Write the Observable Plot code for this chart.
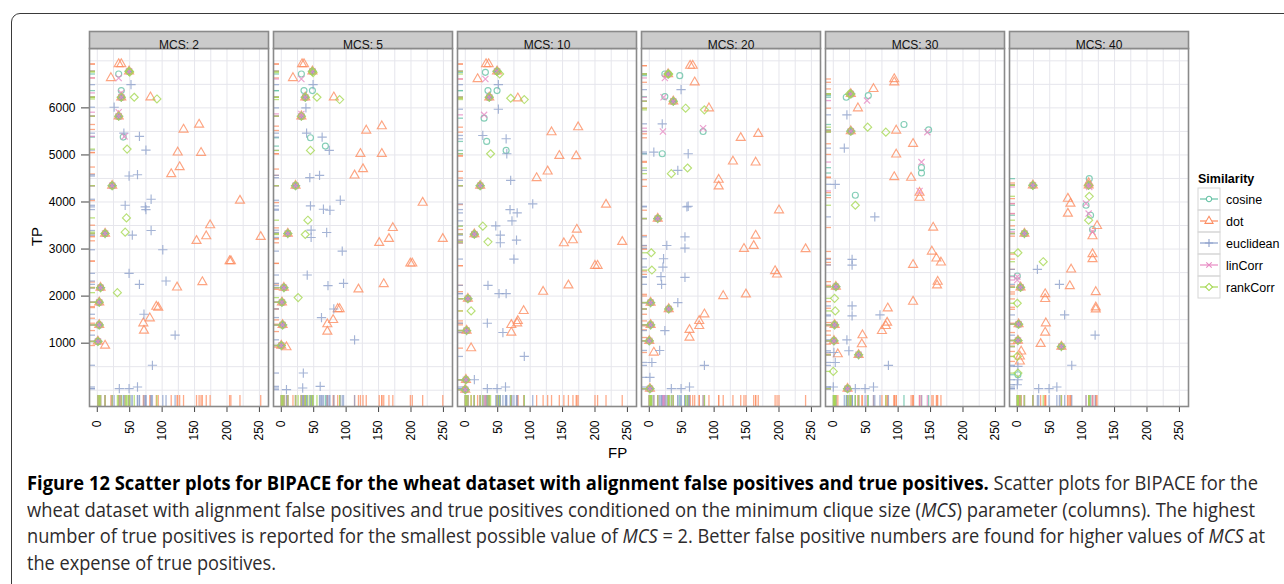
<!DOCTYPE html>
<html><head><meta charset="utf-8">
<script src="https://cdn.jsdelivr.net/npm/d3@7"></script>
<script src="https://cdn.jsdelivr.net/npm/@observablehq/plot@0.6"></script>
<style>
html,body{margin:0;padding:0;background:#fff;width:1284px;height:584px;overflow:hidden;position:relative;font-family:"Liberation Sans",Arial,sans-serif;}
#box{position:absolute;left:11px;top:13px;width:1320px;height:620px;border:1.3px solid #3a3a3a;border-radius:9px;box-sizing:border-box;}
#chart{position:absolute;left:0;top:0;}
#chart svg text{font-size:12px !important;font-family:"Liberation Sans",Arial,sans-serif !important;}
.cap{position:absolute;left:27px;white-space:nowrap;font-family:"Open Sans","Noto Sans",sans-serif;font-size:20px;line-height:26.5px;color:#2e2b2c;transform-origin:0 50%;}
.cap b{color:#000;font-weight:700;}
.axlab{position:absolute;font-family:"Liberation Sans",Arial,sans-serif;font-size:15px;line-height:15px;color:#000;}
svg [aria-label$="tick"] path, svg g[aria-label$="axis"] line{stroke:#444;}
</style></head>
<body>
<div id="box"></div>
<div id="chart"></div>
<div class="axlab" id="fp" style="left:608px;top:445px;">FP</div>
<div class="axlab" id="tp" style="left:27px;top:229px;transform:rotate(-90deg);transform-origin:50% 50%;">TP</div>
<svg id="legend" width="94" height="140" style="position:absolute;left:1190px;top:162px;overflow:visible"></svg>
<div class="cap" data-w="1231" style="top:470px"><b>Figure 12 Scatter plots for BIPACE for the wheat dataset with alignment false positives and true positives.</b> Scatter plots for BIPACE for the</div>
<div class="cap" data-w="1228" style="top:496.5px">wheat dataset with alignment false positives and true positives conditioned on the minimum clique size (<i>MCS</i>) parameter (columns). The highest</div>
<div class="cap" data-w="1238" style="top:523px">number of true positives is reported for the smallest possible value of <i>MCS</i> = 2. Better false positive numbers are found for higher values of <i>MCS</i> at</div>
<div class="cap" data-w="249" style="top:549.5px">the expense of true positives.</div>
<script>
// ---------- data ----------
const MCS = [2, 5, 10, 20, 30, 40];
const similarities = ["cosine", "dot", "euclidean", "linCorr", "rankCorr"];
const xTicks = [0, 50, 100, 150, 200, 250];
const yTicks = [1000, 2000, 3000, 4000, 5000, 6000];
const xGrid = [0, 25, 50, 75, 100, 125, 150, 175, 200, 225, 250];
const yGrid = [0, 500, 1000, 1500, 2000, 2500, 3000, 3500, 4000, 4500, 5000, 5500, 6000, 6500, 7000];

// [MCS, FP, TP]
const cosinePts = [
  [2,33,6720],[2,37,6367],[2,40,5379],
  [5,31,6720],[5,35,6367],[5,48,6367],[5,45,5365],[5,68,5188],
  [10,31,6755],[10,35,6367],[10,49,6367],[10,33,5287],[10,63,5096],[10,29,5781],
  [20,47,6685],[20,24,6240],[20,83,5499],[20,20,5025],[20,24,6720],
  [30,20,6226],[30,147,5534],[30,136,4729],[30,136,4616],[30,109,5647],[30,54,6261],[30,34,4143],
  [40,111,4496],[40,106,3931],[40,113,3719],[40,116,3415],[40,0,2427],[40,1,329]
];
const dotPts = [
  [2,33,6932],[2,37,6932],[2,21,6636],[2,82,6226],[2,133,5541],[2,157,5647],[2,124,5054],[2,160,5047],[2,127,4743],[2,114,4595],[2,220,4030],[2,174,3507],[2,153,3175],[2,168,3274],[2,252,3260],[2,204,2744],[2,206,2744],[2,123,2186],[2,162,2300],[2,91,1777],[2,94,1756],[2,81,1530],[2,71,1424],[2,72,1268],[2,12,950],
  [5,32,6932],[5,35,6932],[5,18,6636],[5,81,6226],[5,131,5520],[5,155,5612],[5,122,5025],[5,155,5025],[5,126,4700],[5,113,4566],[5,218,3987],[5,172,3450],[5,151,3133],[5,166,3218],[5,249,3218],[5,199,2695],[5,202,2695],[5,119,2144],[5,158,2257],[5,87,1727],[5,90,1727],[5,80,1494],[5,71,1403],[5,71,1247],[5,8,915],
  [10,32,6932],[10,36,6932],[10,19,6614],[10,81,6205],[10,133,5484],[10,174,5590],[10,145,4983],[10,171,4976],[10,127,4651],[10,110,4510],[10,217,3945],[10,172,3415],[10,152,3126],[10,166,3189],[10,242,3154],[10,200,2646],[10,204,2646],[10,120,2095],[10,159,2229],[10,90,1685],[10,81,1473],[10,80,1424],[10,71,1389],[10,71,1226],[10,9,894],
  [20,63,6897],[20,67,6897],[20,70,6544],[20,92,5993],[20,141,5364],[20,168,5449],[20,129,4863],[20,164,4842],[20,107,4474],[20,107,4333],[20,200,3825],[20,164,3288],[20,161,3069],[20,146,3006],[20,241,2999],[20,194,2533],[20,197,2462],[20,114,2003],[20,149,2038],[20,85,1614],[20,77,1473],[20,77,1367],[20,62,1283],[20,62,1120],[20,7,802],
  [30,94,6614],[30,94,6544],[30,62,6403],[30,38,5993],[30,97,5520],[30,123,5237],[30,97,5011],[30,94,4531],[30,120,4517],[30,133,4093],[30,133,4199],[30,154,3458],[30,152,2949],[30,159,2801],[30,166,2716],[30,123,2666],[30,161,2307],[30,160,2229],[30,123,1883],[30,84,1742],[30,83,1438],[30,81,1367],[30,75,1261],[30,45,1170],[30,44,979],[30,7,767],
  [40,78,4072],[40,82,3966],[40,78,3754],[40,123,3493],[40,116,3274],[40,116,2893],[40,116,2787],[40,83,2568],[40,81,2215],[40,121,2088],[40,43,2045],[40,43,1940],[40,121,1763],[40,121,1720],[40,44,1424],[40,43,1226],[40,36,986],[40,6,824],[40,4,718],[40,4,612],[40,110,4404]
];
const euclideanPts = [
  [2,52,6494],[2,26,6014],[2,41,5463],[2,65,5393],[2,75,5103],[2,49,4552],[2,62,4580],[2,83,4058],[2,43,3930],[2,74,3896],[2,75,3839],[2,54,3295],[2,83,3394],[2,101,2985],[2,49,2483],[2,65,2250],[2,106,2320],[2,72,1614],[2,120,1170],[2,85,530],[2,34,33],[2,49,33],[2,62,68],
  [5,49,6494],[5,38,6000],[5,39,5463],[5,63,5379],[5,74,5096],[5,44,4517],[5,59,4566],[5,91,4037],[5,45,3917],[5,65,3846],[5,75,3825],[5,46,3401],[5,46,3246],[5,70,3352],[5,94,2956],[5,40,2448],[5,72,2222],[5,96,2271],[5,62,1544],[5,81,1727],[5,113,1071],[5,34,365],[5,8,12],[5,33,47],[5,60,82],
  [10,51,6494],[10,51,5972],[10,27,5414],[10,63,5343],[10,64,5025],[10,70,4460],[10,104,3959],[10,69,3839],[10,80,3768],[10,72,3599],[10,47,3493],[10,54,3295],[10,54,3133],[10,79,3189],[10,75,2787],[10,35,2229],[10,52,2053],[10,63,2053],[10,34,1424],[10,58,1226],[10,91,718],[10,14,223],[10,34,33],[10,49,33],[10,62,68],
  [20,49,6388],[20,20,5661],[20,7,5061],[20,60,5025],[20,44,4672],[20,58,3896],[20,60,3910],[20,55,3260],[20,27,3076],[20,55,3020],[20,22,2794],[20,21,2617],[20,18,2413],[20,55,2398],[20,19,2250],[20,44,1862],[20,24,1268],[20,16,845],[20,4,590],[20,85,527],[20,1,273],[20,34,33],[20,49,33],[20,62,68],
  [30,21,5852],[30,17,5145],[30,3,4376],[30,64,3684],[30,29,2780],[30,29,2660],[30,29,1791],[30,29,1579],[30,72,1600],[30,21,1071],[30,24,838],[30,1,802],[30,85,527],[30,3,590],[30,0,68],[30,34,33],[30,49,33],[30,62,68],
  [40,31,2568],[40,65,2250],[40,73,1600],[40,120,1170],[40,84,530],[40,33,33],[40,49,33],[40,61,68],[40,1,506],[40,1,223],[40,0,117]
];
const linCorrPts = [
  [2,33,6636],[2,33,5908],[2,37,6318],[2,42,5393],
  [5,31,6614],[5,31,5873],
  [10,31,6614],[10,29,5852],
  [20,24,6636],[20,21,5499],[20,83,5569],[20,22,6226],
  [30,52,6155],[30,145,5484],[30,136,4849],[30,133,4234],
  [40,111,4319],[40,106,3966],[40,110,3754],[40,116,3366],[40,0,2413],[40,0,2342]
];
const rankCorrPts = [
  [2,57,6226],[2,92,6190],[2,46,5124],[2,45,3662],[2,43,3359],[2,31,2073],[2,50,6760],
  [5,55,6226],[5,90,6177],[5,45,5096],[5,41,3613],[5,37,3309],[5,26,1968],[5,49,6750],
  [10,70,6205],[10,91,6177],[10,39,5025],[10,27,3486],[10,35,3154],[10,9,1685],[10,53,6720],
  [20,56,5993],[20,85,5958],[20,34,4602],[20,59,4722],[20,3,2921],[20,4,2554],[20,30,6720],
  [30,25,6297],[30,53,5590],[30,81,5484],[30,34,3931],[30,2,1953],[30,3,1685],[30,0,400],
  [40,111,4121],[40,110,3613],[40,40,2731],[40,1,2921],[40,0,1848],[40,0,718],[40,1,364]
];
// results identical for all five similarity measures
const sharedPts = [
  [2,49,6777],[2,37,6226],[2,33,5823],[2,23,4347],[2,12,3330],[2,5,2179],[2,3,1869],[2,3,1388],[2,1,1037],
  [5,48,6777],[5,37,6226],[5,31,5823],[5,22,4347],[5,10,3330],[5,4,2179],[5,1,1869],[5,2,1388],[5,0,950],
  [10,49,6777],[10,37,6226],[10,23,4347],[10,14,3316],[10,4,1946],[10,2,1268],[10,1,223],[10,0,12],
  [20,29,6720],[20,37,6141],[20,13,3648],[20,2,1862],[20,30,1727],[20,2,1389],[20,0,1050],[20,1,33],
  [30,27,6297],[30,27,5506],[30,4,2200],[30,2,1389],[30,1,1050],[30,39,753],[30,22,33],
  [40,24,4354],[40,11,3330],[40,5,2186],[40,2,1403],[40,1,1057],[40,68,929],[40,110,4355]
];

// ---------- styles ----------
const style = {
  cosine:    {color: "#66C2A5", symbol: "circle",    d3sym: d3.symbolCircle,    r: 3.0},
  dot:       {color: "#FC8D62", symbol: "triangle2", d3sym: d3.symbolTriangle2, r: 4.3},
  euclidean: {color: "#8DA0CB", symbol: "plus",      d3sym: d3.symbolPlus,      r: 3.1},
  linCorr:   {color: "#E78AC3", symbol: "times",     d3sym: d3.symbolTimes,     r: 2.9},
  rankCorr:  {color: "#A6D854", symbol: "diamond2",  d3sym: d3.symbolDiamond2,  r: 3.6}
};
const simPts = {cosine: cosinePts, dot: dotPts, euclidean: euclideanPts, linCorr: linCorrPts, rankCorr: rankCorrPts};
const rows = [];
for (const s of similarities) {
  for (const [mcs, fp, tp] of simPts[s].concat(sharedPts)) rows.push({sim: s, mcs, fp, tp});
}
const sharedRows = sharedPts.map(([mcs, fp, tp]) => ({mcs, fp, tp}));

// ---------- layout ----------
const W = 1284, H = 466, mT = 48, mB = 60, mL = 89, mR = 96;
const innerH = H - mT - mB;
const pad = 0.0272;
const step = (W - mL - mR) / (MCS.length - pad);
const bw = step * (1 - pad);

const marks = [
  Plot.ruleX(xGrid, {stroke: "#e6e6ec", strokeWidth: 1}),
  Plot.ruleY(yGrid, {stroke: "#e6e6ec", strokeWidth: 1})
];
for (const s of similarities) {
  const d = rows.filter(r => r.sim === s);
  marks.push(Plot.tickY(d, {fx: "mcs", y: "tp", stroke: style[s].color, strokeOpacity: 0.75, strokeWidth: 1.3, insetRight: bw - 6}));
  marks.push(Plot.tickX(d, {fx: "mcs", x: "fp", stroke: style[s].color, strokeOpacity: 0.75, strokeWidth: 1.3, insetTop: innerH - 11}));
}
// overlapping symbols of all measures look like a filled grey-brown blob
marks.push(Plot.dot(sharedRows, {fx: "mcs", x: "fp", y: "tp", r: 3.6, fill: "#a99a8a", fillOpacity: 0.85, stroke: "none"}));
for (const s of similarities) {
  const d = rows.filter(r => r.sim === s);
  marks.push(Plot.dot(d, {fx: "mcs", x: "fp", y: "tp", symbol: style[s].symbol, r: style[s].r,
    stroke: style[s].color, fill: "none", strokeWidth: 1.15, strokeOpacity: 0.8}));
}
marks.push(Plot.frame({stroke: "#8a8a8a", strokeWidth: 1.6}));
marks.push(Plot.frame({fill: "#cbcbcb", stroke: "#8a8a8a", strokeWidth: 1.6, insetTop: -17, insetBottom: innerH}));
marks.push(Plot.text(MCS, {fx: d => d, text: d => "MCS: " + d, frameAnchor: "top", dy: -8.5, fontSize: 12, fill: "#111"}));

const chart = Plot.plot({
  width: W, height: H,
  marginTop: mT, marginBottom: mB, marginLeft: mL, marginRight: mR,
  style: {fontFamily: "Liberation Sans, Arial, sans-serif", fontSize: "12px", color: "#000", background: "transparent", overflow: "visible"},
  fx: {domain: MCS, paddingInner: pad, paddingOuter: 0, round: false, axis: null},
  x: {domain: [-12, 264], ticks: xTicks, tickFormat: d => String(d), tickRotate: -90, tickSize: 6, tickPadding: 8, label: null},
  y: {domain: [-346, 7262], ticks: yTicks, tickFormat: d => String(d), tickSize: 8, tickPadding: 6, label: null},
  marks
});
document.getElementById("chart").appendChild(chart);

// ---------- legend ----------
const lg = d3.select("#legend");
lg.append("text").attr("x", 8).attr("y", 21).attr("font-weight", "bold").attr("font-size", 12.5)
  .attr("font-family", "Liberation Sans, Arial, sans-serif").text("Similarity");
similarities.forEach((s, i) => {
  const y0 = 26 + 22 * i;
  lg.append("rect").attr("x", 8).attr("y", y0).attr("width", 22).attr("height", 22)
    .attr("fill", "none").attr("stroke", "#d6d6d6");
  lg.append("line").attr("x1", 10).attr("x2", 28).attr("y1", y0 + 11).attr("y2", y0 + 11)
    .attr("stroke", style[s].color).attr("stroke-width", 1.2);
  lg.append("path").attr("transform", `translate(19,${y0 + 11})`)
    .attr("d", d3.symbol(style[s].d3sym, Math.PI * style[s].r * style[s].r * 0.8)())
    .attr("fill", "#fff").attr("stroke", style[s].color).attr("stroke-width", 1.1);
  lg.append("text").attr("x", 36).attr("y", y0 + 15.5).attr("font-size", 12.5)
    .attr("font-family", "Liberation Sans, Arial, sans-serif").text(s);
});

// ---------- caption fit ----------
document.querySelectorAll(".cap").forEach(el => {
  const w = el.getBoundingClientRect().width;
  el.style.transform = `scaleX(${(+el.dataset.w) / w})`;
});
</script>
</body></html>
